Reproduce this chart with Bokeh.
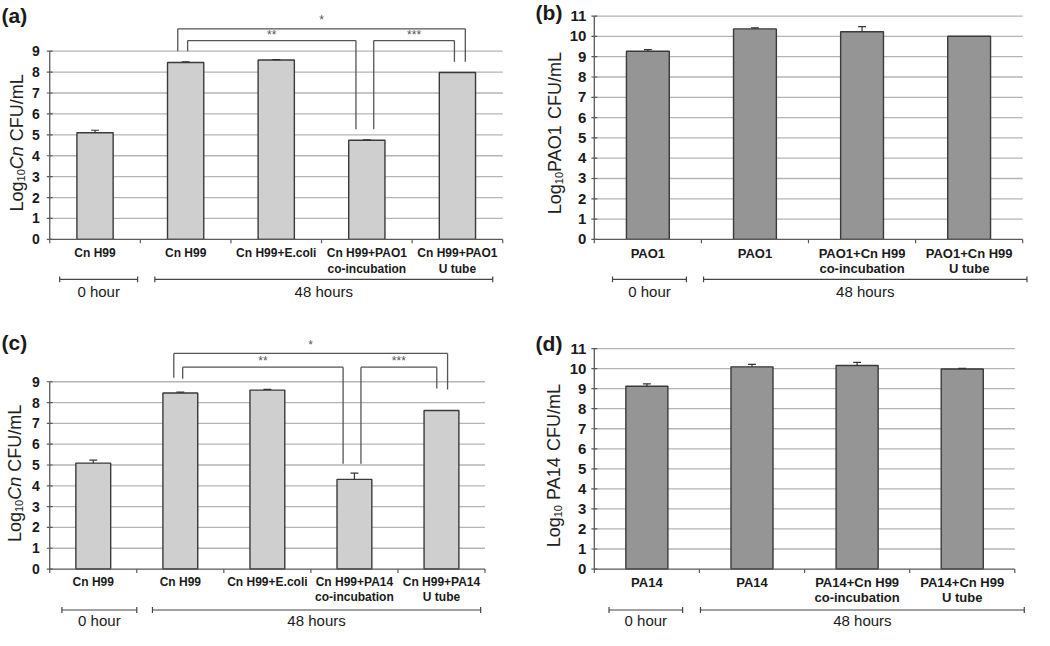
from bokeh.plotting import figure
from bokeh.models import Range1d
from bokeh.layouts import gridplot
from bokeh.embed import file_html
from bokeh.resources import INLINE
from bokeh.core.properties import value

# ---------------- data ----------------
cats_a = ["Cn H99", "Cn H99", "Cn H99+E.coli", "Cn H99+PAO1\nco-incubation", "Cn H99+PAO1\nU tube"]
vals_a = [5.10, 8.46, 8.58, 4.74, 7.98]
errs_a = [0.12, 0.03, 0.02, 0.02, 0.00]

cats_b = ["PAO1", "PAO1", "PAO1+Cn H99\nco-incubation", "PAO1+Cn H99\nU tube"]
vals_b = [9.27, 10.37, 10.23, 10.01]
errs_b = [0.08, 0.05, 0.25, 0.00]

cats_c = ["Cn H99", "Cn H99", "Cn H99+E.coli", "Cn H99+PA14\nco-incubation", "Cn H99+PA14\nU tube"]
vals_c = [5.09, 8.46, 8.60, 4.31, 7.62]
errs_c = [0.14, 0.04, 0.03, 0.30, 0.00]

cats_d = ["PA14", "PA14", "PA14+Cn H99\nco-incubation", "PA14+Cn H99\nU tube"]
vals_d = [9.12, 10.09, 10.16, 9.98]
errs_d = [0.12, 0.12, 0.15, 0.03]

time_labels = ["0 hour", "48 hours"]
yticks_cn = list(range(0, 10))
yticks_pa = list(range(0, 12))
sig_labels = ["*", "**", "***"]

FONT = value("Liberation Sans")
LIGHT = "#cfcfcf"
DARK = "#959595"
EDGE = "#3a3a3a"
GRID = "#b5b5b5"
AXIS = "#5a5a5a"
TXT = "#1a1a1a"

# Arial-like advance widths (em) for label layout
CW = {"L": .556, "o": .556, "g": .556, "1": .556, "0": .556, "C": .722, "n": .556,
      " ": .278, "F": .611, "U": .722, "/": .278, "m": .833, "P": .667, "A": .667,
      "O": .778, "4": .556}


def tw(s, size):
    return sum(CW.get(ch, .556) for ch in s) * size


def build(cats, vals, errs, fill, ticks, ylabel, panel_tag, cfg, sig=None):
    n = len(cats)
    W, H = cfg["W"], cfg["H"]
    ax, rt, y0, ytop = cfg["axis"], cfg["right"], cfg["y0"], cfg["ytop"]
    top = ticks[-1]
    upp = n / (rt - ax)
    upy = top / (y0 - ytop)

    def xd(r):
        return (r - ax) * upp

    def yd(r):
        return (y0 - r) * upy

    p = figure(width=cfg["fw"], height=cfg["fh"],
               x_range=Range1d(xd(0), xd(W)), y_range=Range1d(yd(H), yd(0)),
               x_axis_type=None, y_axis_type=None, title=None,
               output_backend="svg", toolbar_location=None, min_border=0,
               outline_line_color=None)
    p.background_fill_color = "white"
    p.border_fill_color = "white"

    def txt(x, y, s, size, style="normal", align="center", baseline="middle",
            color=TXT, angle=0.0, xo=0, yo=0):
        p.text(x=[x], y=[y], text=[s], text_font=FONT, text_font_size=f"{size}px",
               text_font_style=style, text_align=align, text_baseline=baseline,
               text_color=color, angle=angle, x_offset=xo, y_offset=yo)

    # gridlines
    gy = [t for t in ticks if t > 0]
    p.segment(x0=[0] * len(gy), x1=[n] * len(gy), y0=gy, y1=gy, line_color=GRID, line_width=1.3)

    # bars
    centers = [i + 0.5 for i in range(n)]
    p.vbar(x=centers, top=vals, bottom=0, width=0.4, fill_color=fill,
           line_color=EDGE, line_width=1.4)

    # error bars (upper)
    ec = [c for c, e in zip(centers, errs) if e > 0]
    ev = [v for v, e in zip(vals, errs) if e > 0]
    ee = [v + e for v, e in zip(vals, errs) if e > 0]
    cap = 4 * upp
    p.segment(x0=ec, x1=ec, y0=ev, y1=ee, line_color="#333333", line_width=1.2)
    p.segment(x0=[c - cap for c in ec], x1=[c + cap for c in ec], y0=ee, y1=ee,
              line_color="#333333", line_width=1.2)

    # y axis
    p.segment(x0=[0], x1=[0], y0=[0], y1=[top], line_color=AXIS, line_width=1.3)
    tk = 3 * upp
    p.segment(x0=[-tk] * len(ticks), x1=[tk] * len(ticks), y0=ticks, y1=ticks,
              line_color=AXIS, line_width=1.2)
    for t in ticks:
        txt(-cfg["tgap"] * upp, t, str(t), cfg["tfs"], "bold", align="right")

    # x axis
    p.segment(x0=[0], x1=[n], y0=[0], y1=[0], line_color=AXIS, line_width=1.3)
    bx = list(range(n + 1))
    p.segment(x0=bx, x1=bx, y0=[0] * len(bx), y1=[-4 * upy] * len(bx),
              line_color=AXIS, line_width=1.2)

    # category labels
    for c, lab in zip(centers, cats):
        lines = lab.split("\n")
        txt(c, yd(cfg["cat1"]), lines[0], cfg["cfs"], "bold")
        if len(lines) > 1:
            txt(c, yd(cfg["cat2"]), lines[1], cfg["cfs"], "bold")

    # time group brackets
    for (a, b), lab in zip(cfg["groups"], time_labels):
        yb = yd(cfg["gy"])
        h = 3 * upy
        p.segment(x0=[a, a, b], x1=[b, a, b], y0=[yb, yb - h, yb - h], y1=[yb, yb + h, yb + h],
                  line_color="#444444", line_width=1.2)
        txt((a + b) / 2, yd(cfg["gt"]), lab, 15)

    # y axis label (rotated, with subscript); gap = extra space before piece
    sizes = [11 if sub else 18 for s, sub, it, gap in ylabel]
    total = sum(tw(s, sz) + gap * sz for (s, sub, it, gap), sz in zip(ylabel, sizes))
    cum = 0.0
    lx, lc = xd(cfg["ylx"]), yd(cfg["ylc"])
    for (s, sub, it, gap), sz in zip(ylabel, sizes):
        cum += gap * sz
        txt(lx, lc, s, sz, "italic" if it else "normal", align="left",
            baseline="alphabetic", color="#222222", angle=1.5708,
            xo=(4 if sub else 0), yo=total / 2 - cum)
        cum += tw(s, sz)

    # panel tag
    txt(xd(cfg["tag"][0]), yd(cfg["tag"][1]), panel_tag, 21, "bold")

    # significance brackets
    if sig:
        for lab, xl, xr, yl, yle, yre, ty in sig:
            p.segment(x0=[xl, xl, xr], x1=[xr, xl, xr], y0=[yl, yl, yl], y1=[yl, yle, yre],
                      line_color="#555555", line_width=1.3)
            txt((xl + xr) / 2, ty, lab, 12, color="#555555")
    return p


cfg_a = dict(W=525, H=320, fw=517, fh=312, axis=50, right=510, y0=245, ytop=52,
             tgap=10, tfs=14, cfs=12, cat1=259, cat2=275, gy=286, gt=298,
             groups=[(0.11, 0.97), (1.16, 4.89)], ylx=17, ylc=146, tag=(14, 15))
cfg_b = dict(W=525, H=320, fw=517, fh=312, axis=78, right=513, y0=245, ytop=16,
             tgap=8, tfs=15, cfs=13, cat1=259, cat2=275, gy=286, gt=298,
             groups=[(0.17, 0.86), (1.02, 4.04)], ylx=38, ylc=136, tag=(32, 12))
cfg_c = dict(W=525, H=326, fw=517, fh=318, axis=50, right=492, y0=263, ytop=71,
             tgap=10, tfs=14, cfs=12, cat1=276, cat2=292, gy=305, gt=316,
             groups=[(0.14, 1.0), (1.18, 4.95)], ylx=15, ylc=165, tag=(14, 31))
cfg_d = dict(W=525, H=326, fw=517, fh=318, axis=78, right=505, y0=263, ytop=37,
             tgap=8, tfs=15, cfs=13, cat1=277, cat2=292, gy=305, gt=316,
             groups=[(0.14, 0.84), (1.01, 4.09)], ylx=37, ylc=157, tag=(32, 32))

# (text, subscript, italic, leading gap in em)
ylab_cn = [("Log", False, False, 0), ("10", True, False, 0), ("Cn", False, True, 0),
           ("CFU/mL", False, False, 0.278)]
ylab_pao = [("Log", False, False, 0), ("10", True, False, 0), ("PAO1", False, False, 0),
            ("CFU/mL", False, False, 0.278)]
ylab_pa14 = [("Log", False, False, 0), ("10", True, False, 0), ("PA14", False, False, 0.278),
             ("CFU/mL", False, False, 0.278)]

sig_a = [(sig_labels[0], 1.413, 4.587, 10.07, 9.0, 8.49, 10.50),
         (sig_labels[1], 1.522, 3.38, 9.51, 9.0, 5.27, 9.78),
         (sig_labels[2], 3.576, 4.467, 9.51, 5.27, 8.49, 9.78)]
sig_c = [(sig_labels[0], 1.425, 4.57, 10.36, 9.19, 8.63, 10.78),
         (sig_labels[1], 1.527, 3.37, 9.70, 9.14, 5.06, 10.0),
         (sig_labels[2], 3.575, 4.446, 9.70, 5.06, 8.67, 10.0)]

pa = build(cats_a, vals_a, errs_a, LIGHT, yticks_cn, ylab_cn, "(a)", cfg_a, sig_a)
pb = build(cats_b, vals_b, errs_b, DARK, yticks_pa, ylab_pao, "(b)", cfg_b)
pc = build(cats_c, vals_c, errs_c, LIGHT, yticks_cn, ylab_cn, "(c)", cfg_c, sig_c)
pd = build(cats_d, vals_d, errs_d, DARK, yticks_pa, ylab_pa14, "(d)", cfg_d)

layout = gridplot([[pa, pb], [pc, pd]], toolbar_location=None)
open("out.html", "w").write(file_html(layout, INLINE))
